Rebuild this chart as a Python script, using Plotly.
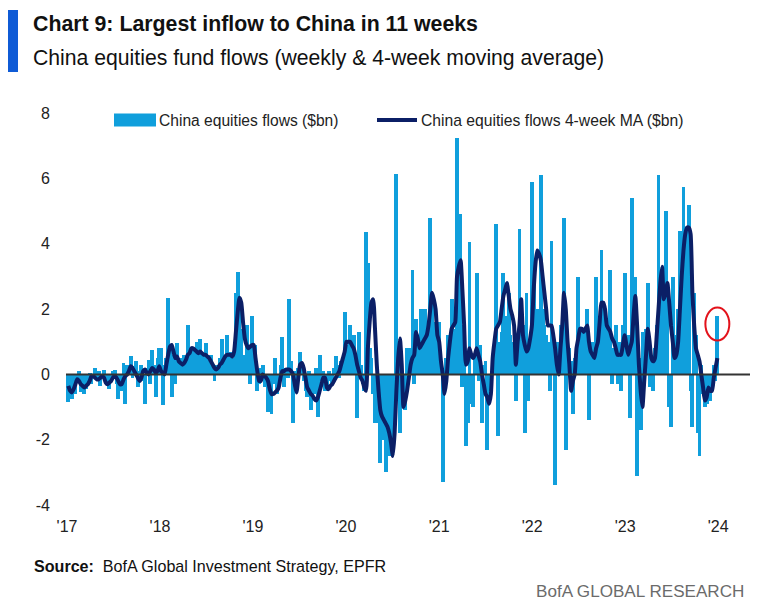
import pandas as pd
import plotly.graph_objects as go

# ---------------- data (weekly China equity fund flows, $bn) ----------------
flows_2017 = [-0.85, -0.5, -0.75, -0.3, -0.6, -0.2, 0.1, -0.55, -0.3, -0.6, -0.45, -0.2, 0.05,
              -0.3, -0.1, 0.2, -0.15, 0.1, -0.35, -0.1, 0.15, -0.25, -0.1, -0.45, -0.2, 0.1,
              0.15, -0.3, -0.75, -0.2, -0.5, 0.35, -0.9, 0.3, 0.2, 0.55, -0.1, 0.25, 0.4,
              -0.4, 0.1, 0.3, -0.2, -0.9, 0.2, 0.45, -0.3, 0.75, 0.3, -0.7, 0.5, 0.8]
flows_2018 = [0.8, -0.95, 0.3, 0.5, 2.35, 0.9, -0.7, 0.6, -0.3, 0.95, 0.5, 0.5, 0.4,
              0.6, 0.4, 1.5, 0.5, 0.7, 0.8, 0.4, 1.0, 0.6, 1.1, 0.6, 0.6, 0.95,
              0.5, 0.5, 0.6, 0.3, -0.2, 0.3, 0.2, 0.5, 1.1, 0.5, 0.6, 1.2, 0.6,
              0.7, 0.4, 0.5, 2.5, 3.15, 2.2, 1.4, 0.6, 0.4, 1.5, 0.9, -0.3, 1.8]
flows_2019 = [0.4, 0.9, -0.5, -0.3, 0.2, 0.3, -0.4, -0.2, -1.15, -0.6, -1.2, -0.3, 0.5,
              -0.6, -0.2, 0.3, 1.15, -0.4, 0.2, -0.1, 2.3, 0.4, -1.5, 0.1, -0.3, 0.2,
              0.7, 0.3, -0.2, -0.5, -0.7, 0.1, -1.1, -0.3, -0.6, 0.2, -1.3, 0.6, -0.2,
              0.1, -0.5, -0.4, 0.1, -0.2, -0.3, 0.2, 0.55, 0.3, -0.1, 0.4, 0.2, 1.9]
flows_2020 = [0.9, 0.6, 1.5, 0.4, 1.2, 0.2, -1.35, 1.3, 0.3, -0.3, -0.5, 4.35, 3.4,
              0.8, 0.5, -0.6, -1.5, -1.5, -0.9, -2.7, -2.0, -1.2, -3.0, -2.2, -2.5, -1.8,
              -2.3, -1.5, 6.15, 0.4, -1.8, -1.0, -0.4, -1.1, 0.8, 0.8, 0.6, 3.2, -0.3,
              1.7, 1.0, 1.0, 2.0, 1.2, 2.0, 0.8, 1.2, 4.8, 2.2, 1.2, 1.6, 1.5]
flows_2021 = [1.6, 0.3, -3.3, -0.6, 0.5, 1.2, 0.8, 2.3, 1.4, 1.0, 7.25, 2.5, 4.9,
              -0.4, 1.5, -2.2, -1.5, 4.05, -0.9, -1.0, 0.6, 3.1, -0.2, 0.9, -1.5, 0.3,
              0.4, -2.3, -0.5, -0.3, 0.5, 0.8, 4.6, -1.9, 1.0, 1.3, 3.1, 1.8, 1.5,
              2.5, 1.2, 0.8, 1.0, -0.8, 1.2, 4.45, 1.2, 1.5, -1.8, 2.5, -0.8, 1.0, 5.9]
flows_2022 = [3.0, 1.0, 2.0, 1.5, 6.1, 2.0, 1.5, 1.2, 1.0, -0.5, 4.1, 1.0, -3.4,
              1.0, 0.9, 1.5, 1.0, 4.8, -2.3, 1.1, 0.8, 0.4, -1.2, 0.5, 0.6, 3.0,
              1.4, 1.2, 1.3, 1.4, 2.0, -1.4, 1.0, 0.7, 1.0, 3.0, 1.3, 1.8, 3.8,
              2.0, 1.8, 1.6, 1.5, 3.2, -0.3, 0.8, 1.5, -0.3, 1.0, -0.5, 1.5, 3.1]
flows_2023 = [0.6, 1.2, -1.35, 5.4, 2.0, 3.0, -3.1, 0.5, -1.7, 1.3, 1.2, 1.4, 2.8,
              -0.4, 0.6, -0.5, 0.8, 1.5, 6.1, 2.8, 2.2, 3.0, 5.0, 2.5, -1.0, -1.6,
              3.0, 1.2, 0.8, 2.0, 4.4, 3.5, 5.75, 4.5, 3.0, 5.2, -0.5, -1.6, 2.5,
              1.2, -1.8, -2.5, 0.3, -0.6, -1.0, -0.9, -0.5, -0.8, -0.4, 0.3, -0.2, 1.8]

# 4-week moving average ($bn)
ma_2017 = [-0.35, -0.5, -0.55, -0.45, -0.3, -0.15, -0.2, -0.3, -0.35, -0.4, -0.35, -0.3, -0.2,
           -0.05, -0.05, -0.1, -0.15, -0.15, -0.1, -0.05, -0.1, -0.25, -0.3, -0.25, -0.2, -0.1,
           -0.05, -0.1, -0.2, -0.3, -0.3, -0.15, -0.05, 0.0, 0.1, 0.25, 0.2, 0.1, 0.0,
           -0.1, -0.2, -0.1, 0.1, 0.15, 0.05, 0.0, 0.1, 0.2, 0.15, 0.05, 0.1, 0.25]
ma_2018 = [0.1, 0.05, 0.0, 0.3, 0.6, 0.85, 0.9, 0.7, 0.5, 0.55, 0.4, 0.35, 0.3,
           0.35, 0.45, 0.6, 0.65, 0.8, 0.8, 0.75, 0.7, 0.65, 0.7, 0.65, 0.6, 0.6,
           0.55, 0.5, 0.4, 0.3, 0.2, 0.15, 0.2, 0.3, 0.35, 0.45, 0.55, 0.6, 0.6,
           0.6, 0.55, 0.7, 1.3, 1.9, 2.35, 2.2, 1.6, 1.1, 0.9, 0.8, 0.85, 0.9]
ma_2019 = [0.9, 0.5, 0.1, -0.2, -0.2, 0.0, -0.05, -0.1, -0.2, -0.45, -0.6, -0.6, -0.55,
           -0.5, -0.4, -0.1, 0.1, 0.1, 0.15, 0.15, 0.15, 0.1, 0.0, -0.3, -0.55, -0.1,
           0.3, 0.35, 0.2, -0.1, -0.4, -0.5, -0.6, -0.65, -0.75, -0.8, -0.7, -0.5, -0.3,
           -0.1, -0.1, -0.4, -0.45, -0.35, -0.3, -0.2, -0.1, 0.0, 0.1, 0.3, 0.5, 0.7]
ma_2020 = [1.0, 1.0, 1.0, 0.9, 0.8, 0.6, 0.3, 0.1, -0.1, -0.2, -0.4, -0.5, 0.8,
           1.6, 2.2, 2.3, 1.4, 0.3, -0.5, -1.1, -1.3, -1.4, -1.5, -1.6, -1.8, -2.1,
           -2.5, -1.8, -0.5, 0.5, 1.1, 0.3, -1.0, -0.8, -0.5, -0.1, 0.3, 0.5, 0.6,
           1.3, 1.1, 0.8, 0.9, 1.0, 1.1, 1.2, 1.5, 2.0, 2.5, 2.3, 2.0, 1.2]
ma_2021 = [1.0, 0.4, 0.0, -0.6, -0.2, 0.5, 1.0, 1.4, 1.5, 1.6, 3.0, 3.3, 3.5,
           2.6, 1.5, 0.3, 0.4, 0.8, 0.6, 0.5, 0.6, 0.8, 0.6, 0.4, 0.0, -0.3,
           -0.6, -0.7, -0.9, -0.6, 0.5, 1.0, 1.4, 1.5, 1.6, 2.0, 2.4, 2.6, 2.8,
           2.4, 2.0, 1.8, 1.5, 0.3, 1.0, 1.5, 2.3, 1.2, 0.9, 0.7, 0.8, 1.1, 1.5]
ma_2022 = [2.6, 3.4, 3.8, 3.7, 3.5, 3.0, 2.5, 2.0, 1.5, 1.5, 1.5, 1.2, 0.8,
           0.3, 0.0, 0.8, 1.5, 2.5, 2.0, 1.0, 0.3, -0.5, -0.2, 0.0, 0.8, 1.1,
           1.4, 1.4, 1.3, 1.4, 1.5, 1.0, 0.7, 0.6, 0.5, 0.8, 1.0, 1.6, 2.2,
           2.2, 2.0, 1.5, 1.4, 1.3, 1.1, 1.0, 0.8, 0.6, 0.6, 0.6, 0.9, 1.2]
ma_2023 = [0.9, 0.6, 0.8, 1.0, 1.8, 2.4, 1.5, 0.3, -0.5, -1.0, -0.2, 0.6, 1.4,
           1.0, 0.5, 0.4, 0.5, 1.2, 2.0, 2.8, 3.3, 2.3, 2.5, 2.8, 2.2, 1.5,
           1.0, 0.5, 0.6, 1.0, 2.0, 3.0, 3.8, 4.3, 4.5, 4.5, 4.3, 2.5, 1.5,
           0.8, 0.6, 0.4, 0.0, -0.4, -0.8, -0.7, -0.4, -0.5, -0.5, -0.1, 0.2, 0.5]

x_tick_dates = ["2017-01-01", "2018-01-01", "2019-01-01", "2020-01-01",
                "2021-01-01", "2022-01-01", "2023-01-01", "2024-01-01"]
x_tick_labels = ["'17", "'18", "'19", "'20", "'21", "'22", "'23", "'24"]
y_ticks = [-4, -2, 0, 2, 4, 6, 8]
y_tick_labels = ["-4", "-2", "0", "2", "4", "6", "8"]

series_flow_name = "China equities flows ($bn)"
series_ma_name = "China equities flows 4-week MA ($bn)"

# ---------------- build ----------------
flows = flows_2017 + flows_2018 + flows_2019 + flows_2020 + flows_2021 + flows_2022 + flows_2023
ma = ma_2017 + ma_2018 + ma_2019 + ma_2020 + ma_2021 + ma_2022 + ma_2023
dates = pd.date_range("2017-01-06", periods=len(flows), freq="W-FRI")
dates_ma = pd.date_range("2017-01-06", periods=len(ma), freq="W-FRI")

BAR = "#109fdc"
NAVY = "#0b1f66"
FONT = "Liberation Sans, Arial, sans-serif"
TXT = "#222222"

# page has an 8px body margin; figure is sized to fit inside the window
OFF = 8
FIG_W, FIG_H = 758 - OFF, 611 - OFF
L, T, W, H = 66 - OFF, 105 - OFF, 686, 406


def px(xp):  # reference-image x pixel -> paper
    return (xp - OFF - L) / W


def py(yp):  # reference-image y pixel -> paper
    return (T + H - (yp - OFF)) / H


fig = go.Figure()
fig.add_trace(go.Bar(x=dates, y=flows, name=series_flow_name, marker_color=BAR,
                     marker_line_width=0, width=15 * 86400000, showlegend=False))
fig.add_trace(go.Scatter(x=dates_ma, y=ma, name=series_ma_name, mode="lines",
                         line=dict(color=NAVY, width=4, shape="spline", smoothing=0.5),
                         showlegend=False))

last_d = dates[-1]
last_v = flows[-1]
shapes = [
    dict(type="line", xref="paper", yref="y", x0=0, x1=1, y0=0, y1=0,
         line=dict(color="#333333", width=2), layer="above"),
    dict(type="rect", xref="paper", yref="paper", x0=px(5), x1=px(18), y0=py(72), y1=py(10),
         fillcolor="#0f5bd6", line=dict(width=0)),
    dict(type="rect", xref="paper", yref="paper", x0=px(114), x1=px(156), y0=py(126.5), y1=py(113.5),
         fillcolor=BAR, line=dict(width=0)),
    dict(type="line", xref="paper", yref="paper", x0=px(377), x1=px(417), y0=py(120), y1=py(120),
         line=dict(color=NAVY, width=4)),
    dict(type="circle", xref="x", yref="y",
         x0=last_d - pd.Timedelta(days=47), x1=last_d + pd.Timedelta(days=47),
         y0=last_v - 0.76, y1=last_v + 0.25,
         line=dict(color="#e3121b", width=2), layer="above"),
]

annotations = [
    dict(text="<b>Chart 9: Largest inflow to China in 11 weeks</b>", xref="paper", yref="paper",
         x=px(31), y=py(24), xanchor="left", yanchor="middle", showarrow=False,
         font=dict(family=FONT, size=21.3, color="#111111")),
    dict(text="China equities fund flows (weekly &amp; 4-week moving average)", xref="paper", yref="paper",
         x=px(31), y=py(58), xanchor="left", yanchor="middle", showarrow=False,
         font=dict(family=FONT, size=21.2, color="#111111")),
    dict(text=series_flow_name, xref="paper", yref="paper", x=px(157), y=py(120),
         xanchor="left", yanchor="middle", showarrow=False,
         font=dict(family=FONT, size=15.6, color=TXT)),
    dict(text=series_ma_name, xref="paper", yref="paper", x=px(419), y=py(120),
         xanchor="left", yanchor="middle", showarrow=False,
         font=dict(family=FONT, size=15.7, color=TXT)),
    dict(text="<b>Source:</b>  BofA Global Investment Strategy, EPFR", xref="paper", yref="paper",
         x=px(32), y=py(566), xanchor="left", yanchor="middle", showarrow=False,
         font=dict(family=FONT, size=16.1, color="#111111")),
    dict(text="BofA GLOBAL RESEARCH", xref="paper", yref="paper",
         x=px(746), y=py(591), xanchor="right", yanchor="middle", showarrow=False,
         font=dict(family=FONT, size=17.1, color="#6b6b6b")),
]

fig.update_layout(
    width=FIG_W, height=FIG_H,
    margin=dict(l=L, r=FIG_W - L - W, t=T, b=FIG_H - T - H, pad=0),
    paper_bgcolor="white", plot_bgcolor="white",
    bargap=0, showlegend=False,
    shapes=shapes, annotations=annotations,
    xaxis=dict(type="date", range=["2016-12-28", "2024-05-13"],
               tickvals=x_tick_dates, ticktext=x_tick_labels, showgrid=False,
               zeroline=False, showline=False, ticks="", ticklabelstandoff=4,
               tickfont=dict(family=FONT, size=16, color=TXT)),
    yaxis=dict(range=[-4.184, 8.254], tickvals=y_ticks, ticktext=y_tick_labels, showgrid=False,
               zeroline=False, showline=False, ticks="", ticklabelstandoff=15,
               tickfont=dict(family=FONT, size=16, color=TXT)),
)

fig.write_html("out.html")
